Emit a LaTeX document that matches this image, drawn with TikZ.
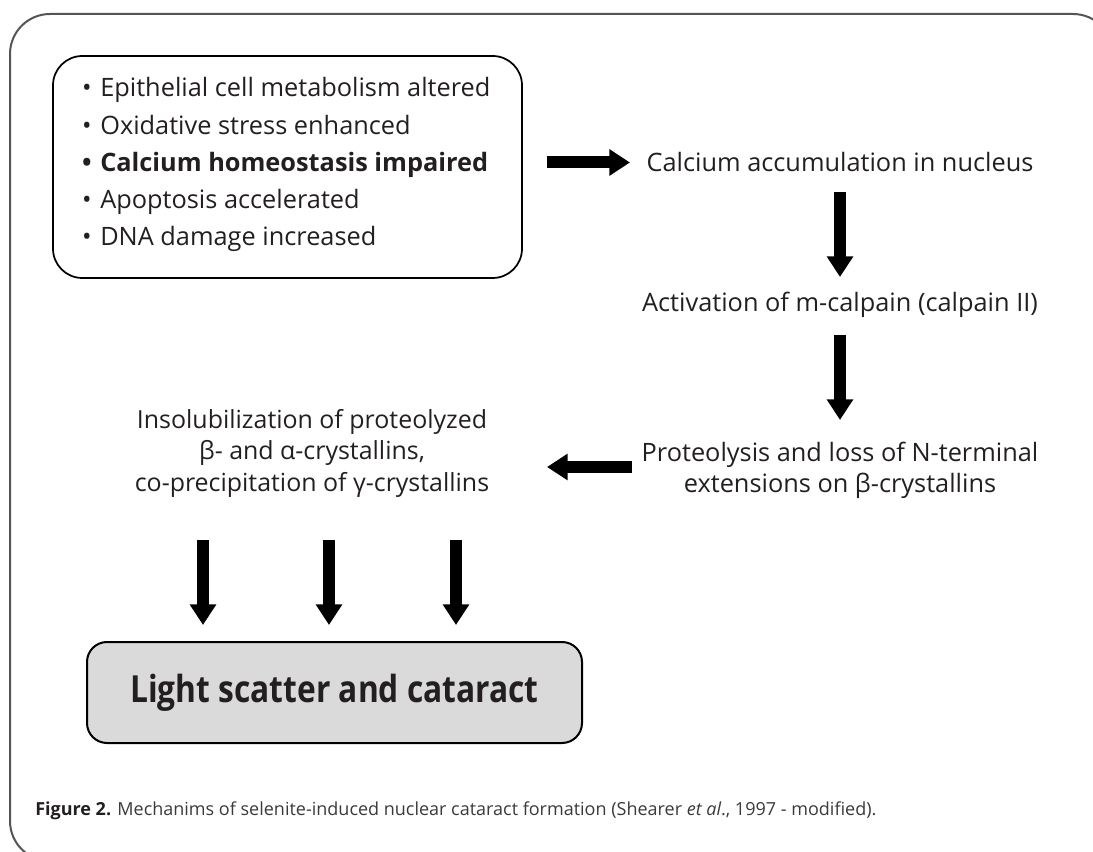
\documentclass[tikz,border=0pt]{standalone}
\usepackage{fontspec}
\setmainfont{Open Sans}
\newfontfamily\boxfont{Open Sans}[FakeStretch=0.85]
\usetikzlibrary{arrows.meta}
\definecolor{txt}{HTML}{231F20}
\definecolor{framegray}{HTML}{555555}
\definecolor{boxfill}{HTML}{DADADA}
\definecolor{capgray}{HTML}{3A3A3A}
\begin{document}
\begin{tikzpicture}[x=0.75pt,y=-0.75pt,
  fat/.style={line width=9pt,-{Triangle[length=15.5pt,width=19pt]},black},
  lbl/.style={text=txt,font=\fontsize{19}{23.25}\selectfont,inner sep=0pt},
  bul/.style={lbl,anchor=base},
  item/.style={lbl,anchor=base west},
]
\useasboundingbox (0,0) rectangle (1093,852);
% outer frame
\draw[framegray,line width=1.5pt,rounded corners=30pt] (10,14) rectangle (1113,861);
% inner list box
\node[draw=black,line width=1.3pt,rounded corners=22pt,minimum width=351.75pt,minimum height=166.5pt,inner sep=0pt] (list) at (287.5,167) {};
\node[bul] (b1) at (87,97) {\textbullet};
\node[item] (t1) at (100,97) {Epithelial cell metabolism altered};
\node[bul] (b2) at (87,135) {\textbullet};
\node[item] (t2) at (100,135) {Oxidative stress enhanced};
\node[bul,font=\fontsize{19}{23.25}\selectfont\bfseries] (b3) at (87,172) {\textbullet};
\node[item,font=\fontsize{19}{23.25}\selectfont\bfseries] (t3) at (100,172) {Calcium homeostasis impaired};
\node[bul] (b4) at (87,209) {\textbullet};
\node[item] (t4) at (100,209) {Apoptosis accelerated};
\node[bul] (b5) at (87,246) {\textbullet};
\node[item] (t5) at (100,246) {DNA damage increased};
% right column
\node[lbl,anchor=base] (calc) at (840,172) {Calcium accumulation in nucleus};
\node[lbl,anchor=base] (act) at (840,312) {Activation of m-calpain (calpain II)};
\node[lbl,anchor=base,align=center] (prot) at (840,492) {Proteolysis and loss of N-terminal\\extensions on β-crystallins};
% left column
\node[lbl,anchor=base,align=center,font=\fontsize{18.7}{23.6}\selectfont] (insol) at (312,491) {Insolubilization of proteolyzed\\β- and α-crystallins,\\co-precipitation of γ-crystallins};
% bottom box
\node[draw=black,fill=boxfill,line width=1.5pt,rounded corners=15pt,minimum width=371.25pt,minimum height=75.75pt,inner sep=0pt,text=txt,font=\boxfont\fontsize{28}{32}\selectfont\bfseries] (light) at (334.5,692.5) {Light scatter and cataract};
% arrows
\coordinate (a1s) at (547,162.5); \coordinate (a1e) at (630,162.5);
\coordinate (a2s) at (840,192);   \coordinate (a2e) at (840,277);
\coordinate (a3s) at (840,335);   \coordinate (a3e) at (840,420);
\coordinate (a4s) at (632,467);   \coordinate (a4e) at (547,467);
\coordinate (b1s) at (203,540);   \coordinate (b1e) at (203,625);
\coordinate (b2s) at (329,540);   \coordinate (b2e) at (329,625);
\coordinate (b3s) at (456,540);   \coordinate (b3e) at (456,625);
\draw[fat] (a1s) -- (a1e);
\draw[fat] (a2s) -- (a2e);
\draw[fat] (a3s) -- (a3e);
\draw[fat] (a4s) -- (a4e);
\draw[fat] (b1s) -- (b1e);
\draw[fat] (b2s) -- (b2e);
\draw[fat] (b3s) -- (b3e);
% caption
\node[anchor=base west,inner sep=0pt,text=capgray,font=\fontsize{13.5}{16}\selectfont] (cap) at (35,815) {\textbf{\color{txt}Figure 2.} Mechanims of selenite-induced nuclear cataract formation (Shearer \textit{et al}., 1997 - modified).};
\end{tikzpicture}
\end{document}
